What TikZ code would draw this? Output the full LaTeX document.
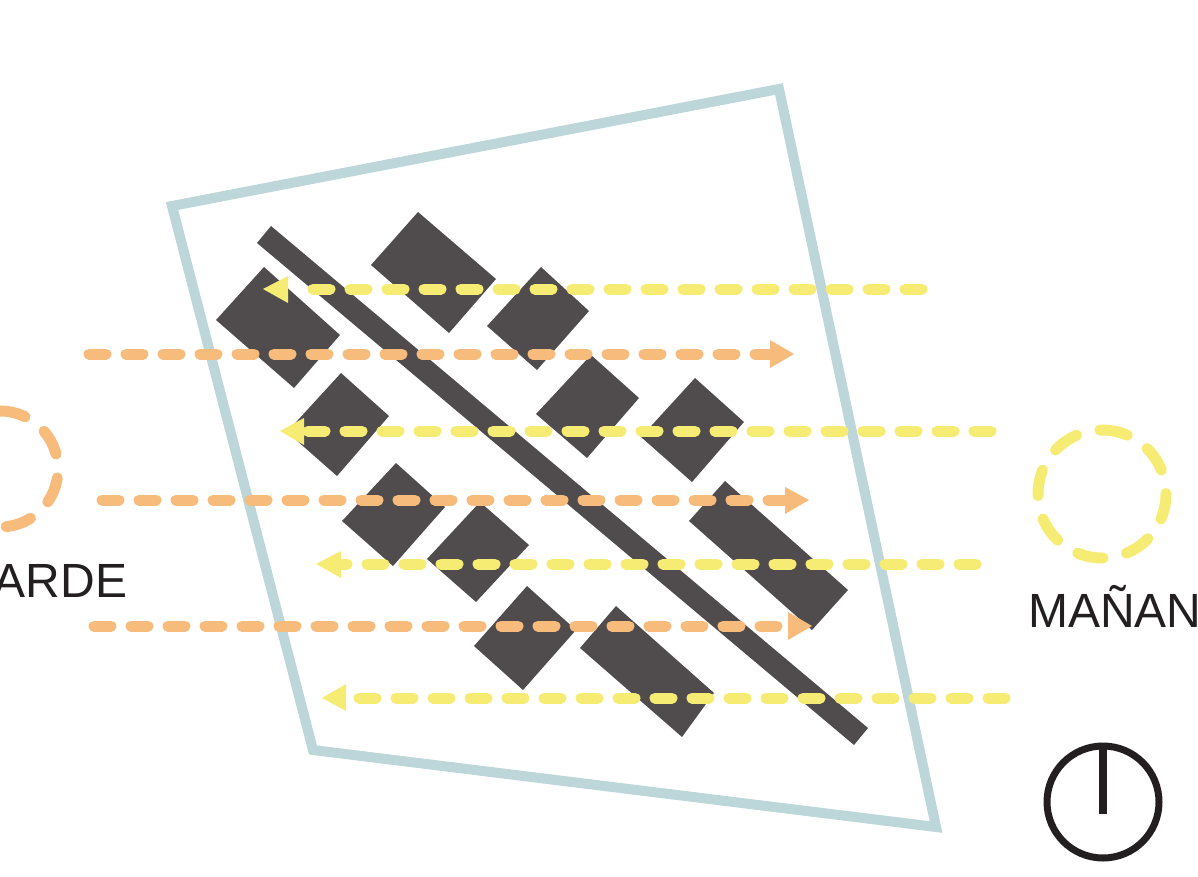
\documentclass[tikz,border=0pt]{standalone}
\usepackage{fontspec}
\setmainfont{Liberation Sans}
\definecolor{site}{HTML}{BDD6D9}
\definecolor{blk}{HTML}{504C4D}
\definecolor{sunY}{HTML}{F6EC74}
\definecolor{sunO}{HTML}{F7BC7B}
\definecolor{ink}{HTML}{231F20}
\tikzset{
 x=1pt,y=-1pt,
 building/.style={fill=blk,draw=none},
 yflow/.style={draw=sunY,line width=11pt,line cap=round,dash pattern=on 17pt off 20pt},
 oflow/.style={draw=sunO,line width=11pt,line cap=round,dash pattern=on 17pt off 20pt},
 ytip/.style={fill=sunY,draw=none},
 otip/.style={fill=sunO,draw=none},
 lab/.style={font=\fontsize{48}{48}\selectfont,text=ink,inner sep=0pt,anchor=base west}
}
\begin{document}
\begin{tikzpicture}
\useasboundingbox (0,0) rectangle (1198,877);
\draw[site,line width=10pt,miter limit=10] (172,206) -- (779,89) -- (936,827) -- (313,750) -- cycle;
\fill[building] (418,212)--(496,279)--(449,333)--(371,265)--cycle;
\fill[building] (264,267)--(340,335)--(294,388)--(216,320)--cycle;
\fill[building] (541,267)--(589,311)--(537,370)--(487,326)--cycle;
\fill[building] (591,355)--(639,398)--(587,458)--(536,414)--cycle;
\fill[building] (695,378)--(744,422)--(692,482)--(641,437)--cycle;
\fill[building] (341,373)--(389,416)--(337,476)--(287,432)--cycle;
\fill[building] (396,463)--(445,507)--(393,566)--(342,521)--cycle;
\fill[building] (480,502)--(529,545)--(476,602)--(427,559)--cycle;
\fill[building] (527,586)--(576,630)--(523,690)--(474,646)--cycle;
\fill[building] (725,481)--(848,590)--(812,630)--(689,521)--cycle;
\fill[building] (616,606)--(714,693)--(682,737)--(580,648)--cycle;
\fill[building] (271,226)--(868,728)--(854,745)--(257,243)--cycle;
\coordinate (y1a) at (922,289); \coordinate (y1b) at (300,289);
\coordinate (y2a) at (991,431); \coordinate (y2b) at (305,431);
\coordinate (y3a) at (976,564); \coordinate (y3b) at (340,564);
\coordinate (y4a) at (1005,698); \coordinate (y4b) at (345,698);
\coordinate (o1a) at (89,354); \coordinate (o1b) at (770,354);
\coordinate (o2a) at (102,500); \coordinate (o2b) at (785,500);
\coordinate (o3a) at (94,626); \coordinate (o3b) at (788,626);
\draw[yflow] (y1a)--(y1b); \draw[yflow] (y2a)--(y2b); \draw[yflow] (y3a)--(y3b); \draw[yflow] (y4a)--(y4b);
\draw[oflow] (o1a)--(o1b); \draw[oflow] (o2a)--(o2b); \draw[oflow] (o3a)--(o3b);
\fill[ytip] (263,289)--(288,276)--(288,303)--cycle;
\fill[ytip] (280,431)--(304,418)--(304,445)--cycle;
\fill[ytip] (316,564)--(341,551)--(341,578)--cycle;
\fill[ytip] (322,698)--(346,684)--(346,711)--cycle;
\fill[otip] (794,354)--(770,340)--(770,368)--cycle;
\fill[otip] (809,500)--(785,487)--(785,514)--cycle;
\fill[otip] (812,626)--(788,612)--(788,640)--cycle;
\draw[draw=sunY,line width=11pt,line cap=round,dash pattern=on 26pt off 24pt] (1102,430) arc[start angle=-90,end angle=270,radius=64];
\draw[draw=sunO,line width=11pt,line cap=round,dash pattern=on 26pt off 24pt] (0,411) arc[start angle=-90,end angle=90,radius=58];
\node[lab] (tarde) at (-32,597) {TARDE};
\node[lab] (man) at (1028,627) {MAÑANA};
\draw[ink,line width=7pt] (1103,802) circle (56);
\draw[ink,line width=8pt] (1103,746)--(1103,814);
\end{tikzpicture}
\end{document}
